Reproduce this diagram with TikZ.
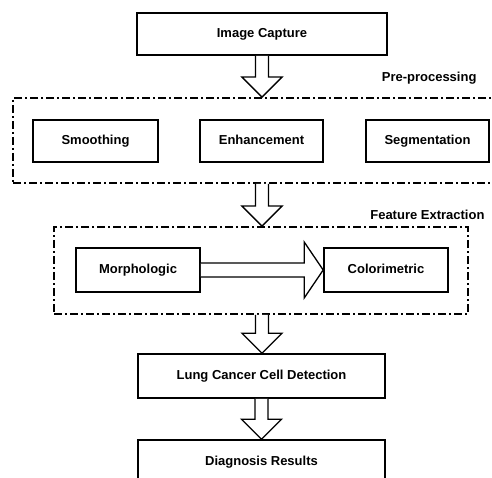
\documentclass[tikz,border=0pt]{standalone}
\usepackage{fontspec}
\setmainfont{Liberation Sans}
\usetikzlibrary{calc}

\begin{document}
\begin{tikzpicture}[x=1pt,y=-1pt,
        font=\fontsize{13}{15}\selectfont\bfseries,
        box/.style = {draw, line width=1.6pt, inner sep=0pt, minimum height=42pt, text height=9.5pt, text depth=2.5pt},
        group/.style = {draw, line width=1.8pt, inner sep=0pt, dash pattern=on 8pt off 3pt on 2pt off 3pt},
        fatv/.style = {draw, fill=white, line width=1.3pt, to path={let \p1=(\tikztostart), \p2=(\tikztotarget) in
            (\x1-6.5pt,\y1) -- (\x1-6.5pt,\y2+20pt) -- (\x1-20pt,\y2+20pt) -- (\x1,\y2)
            -- (\x1+20pt,\y2+20pt) -- (\x1+6.5pt,\y2+20pt) -- (\x1+6.5pt,\y1)}},
        fath/.style = {draw, fill=white, line width=1.3pt, to path={let \p1=(\tikztostart), \p2=(\tikztotarget) in
            (\x1,\y1+7pt) -- (\x2-19pt,\y1+7pt) -- (\x2-19pt,\y1+28pt) -- (\x2,\y1)
            -- (\x2-19pt,\y1-28pt) -- (\x2-19pt,\y1-7pt) -- (\x1,\y1-7pt)}}]
        \clip (0,0) rectangle (492,478);
        \node[box, minimum width=250pt] (cap) at (262,34) {Image Capture};
        \node[group, minimum width=498pt, minimum height=85pt] (pre) at (262,140.5) {};
        \node[anchor=east] (prelbl) at (480,78) {Pre-processing};
        \node[box, minimum width=125pt] (smo) at (95.5,141) {Smoothing};
        \node[box, minimum width=123pt] (enh) at (261.5,141) {Enhancement};
        \node[box, minimum width=123pt] (seg) at (427.5,141) {Segmentation};
        \node[group, minimum width=414pt, minimum height=87pt] (feat) at (261,270.5) {};
        \node[anchor=east] (featlbl) at (488,215) {Feature Extraction};
        \node[box, minimum width=124pt, minimum height=44pt] (mor) at (138,270) {Morphologic};
        \node[box, minimum width=124pt, minimum height=44pt] (col) at (386,270) {Colorimetric};
        \node[box, minimum width=247pt, minimum height=44pt] (lung) at (261.5,376) {Lung Cancer Cell Detection};
        \node[box, minimum width=247pt, minimum height=44pt] (diag) at (261.5,462) {Diagnosis Results};
        \draw[fatv] (cap.south) to (pre.north);
        \draw[fatv] (pre.south -| cap.south) to (feat.north -| cap.south);
        \draw[fatv] (feat.south -| cap.south) to (lung.north);
        \draw[fatv] (lung.south) to (diag.north);
        \draw[fath] (mor.east) to (col.west);
        \end{tikzpicture}
\end{document}
